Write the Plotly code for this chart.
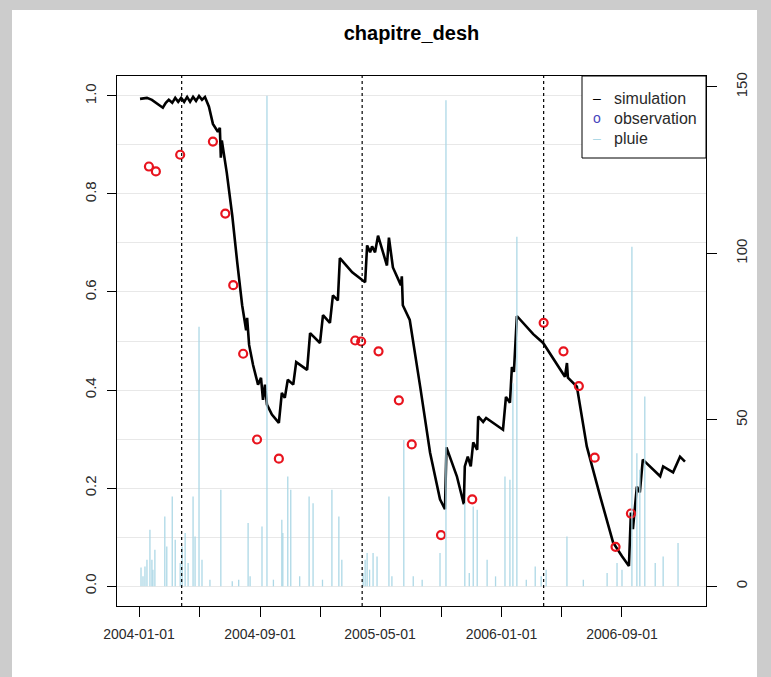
import plotly.graph_objects as go

# ---------------------------------------------------------------- data
title_text = "chapitre_desh"

# simulated soil-water index (daily model output, key points)
sim_dates = [
    "2004-01-03", "2004-01-17", "2004-01-27", "2004-02-04", "2004-02-12", "2004-02-18",
    "2004-02-24", "2004-03-01", "2004-03-08", "2004-03-14", "2004-03-20", "2004-03-26",
    "2004-04-01", "2004-04-07", "2004-04-13", "2004-04-19", "2004-04-25", "2004-05-01",
    "2004-05-07", "2004-05-13", "2004-05-21", "2004-05-29", "2004-06-08", "2004-06-12",
    "2004-06-14", "2004-06-16", "2004-06-26", "2004-07-07", "2004-07-17", "2004-07-27",
    "2004-08-04", "2004-08-06", "2004-08-10", "2004-08-18", "2004-08-28", "2004-09-03",
    "2004-09-07", "2004-09-11", "2004-09-15", "2004-09-25", "2004-10-09", "2004-10-15",
    "2004-10-21", "2004-10-27", "2004-11-07", "2004-11-13", "2004-12-05", "2004-12-11",
    "2004-12-31", "2005-01-06", "2005-01-20", "2005-01-26", "2005-02-05", "2005-02-09",
    "2005-03-06", "2005-04-01", "2005-04-05", "2005-04-11", "2005-04-15", "2005-04-21",
    "2005-04-27", "2005-05-15", "2005-05-19", "2005-05-27", "2005-06-12", "2005-06-14",
    "2005-06-16", "2005-06-30", "2005-07-21", "2005-08-10", "2005-08-30", "2005-09-09",
    "2005-09-12", "2005-10-03", "2005-10-17", "2005-10-19", "2005-10-25", "2005-10-31",
    "2005-11-05", "2005-11-13", "2005-11-15", "2005-11-25", "2005-12-01", "2006-01-04",
    "2006-01-10", "2006-01-18", "2006-01-22", "2006-01-26", "2006-02-01", "2006-03-06",
    "2006-03-26", "2006-05-09", "2006-05-13", "2006-05-15", "2006-06-02", "2006-06-22",
    "2006-07-19", "2006-08-14", "2006-09-01", "2006-09-15", "2006-09-19", "2006-09-23",
    "2006-10-01", "2006-10-07", "2006-10-13", "2006-10-27", "2006-11-17", "2006-11-23",
    "2006-12-13", "2006-12-27", "2007-01-06",
]
sim_values = [
    0.994, 0.996, 0.992, 0.986, 0.980, 0.976,
    0.986, 0.992, 0.986, 0.996, 0.988, 0.996,
    0.988, 0.998, 0.988, 0.998, 0.990, 1.000,
    0.992, 0.998, 0.978, 0.943, 0.927, 0.935,
    0.874, 0.909, 0.843, 0.756, 0.661, 0.573,
    0.522, 0.547, 0.492, 0.451, 0.411, 0.425,
    0.380, 0.411, 0.370, 0.350, 0.333, 0.394,
    0.384, 0.421, 0.411, 0.457, 0.441, 0.516,
    0.496, 0.553, 0.537, 0.593, 0.583, 0.669,
    0.640, 0.620, 0.695, 0.681, 0.693, 0.681,
    0.715, 0.654, 0.711, 0.650, 0.614, 0.632,
    0.573, 0.543, 0.407, 0.272, 0.177, 0.157,
    0.283, 0.224, 0.167, 0.244, 0.264, 0.244,
    0.293, 0.278, 0.346, 0.335, 0.343, 0.319,
    0.386, 0.374, 0.447, 0.437, 0.551, 0.514,
    0.496, 0.427, 0.455, 0.425, 0.407, 0.285,
    0.183, 0.089, 0.061, 0.041, 0.150, 0.116,
    0.203, 0.191, 0.258, 0.244, 0.224, 0.244,
    0.232, 0.264, 0.254,
]

# field observations
obs_dates = [
    "2004-01-21", "2004-02-04", "2004-03-24", "2004-05-29", "2004-06-23", "2004-07-09",
    "2004-07-29", "2004-08-26", "2004-10-09", "2005-03-12", "2005-03-24", "2005-04-28",
    "2005-06-08", "2005-07-04", "2005-09-01", "2005-11-03", "2006-03-27", "2006-05-06",
    "2006-06-06", "2006-07-08", "2006-08-19", "2006-09-19",
]
obs_values = [
    0.856, 0.846, 0.880, 0.907, 0.760, 0.614,
    0.474, 0.299, 0.260, 0.501, 0.499, 0.479,
    0.379, 0.289, 0.104, 0.177, 0.537, 0.479,
    0.408, 0.262, 0.080, 0.148,
]

# daily rainfall (mm), rainy days only
rain_dates = [
    "2004-01-05", "2004-01-09", "2004-01-13", "2004-01-17", "2004-01-23", "2004-01-27",
    "2004-01-29", "2004-02-02", "2004-02-22", "2004-02-26", "2004-03-08", "2004-03-14",
    "2004-03-24", "2004-03-28", "2004-04-03", "2004-04-09", "2004-04-19", "2004-04-23",
    "2004-05-01", "2004-05-07", "2004-05-23", "2004-06-14", "2004-07-07", "2004-07-20",
    "2004-08-08", "2004-08-12", "2004-09-05", "2004-09-15", "2004-09-28", "2004-10-15",
    "2004-10-17", "2004-10-27", "2004-11-02", "2004-11-20", "2004-12-09", "2004-12-17",
    "2005-01-05", "2005-01-24", "2005-02-07", "2005-02-13", "2005-03-28", "2005-04-01",
    "2005-04-05", "2005-04-10", "2005-04-17", "2005-04-25", "2005-05-19", "2005-05-25",
    "2005-06-18", "2005-07-07", "2005-07-25", "2005-08-30", "2005-09-11", "2005-10-19",
    "2005-10-28", "2005-11-05", "2005-11-13", "2005-12-03", "2005-12-20", "2006-01-08",
    "2006-01-18", "2006-01-24", "2006-02-01", "2006-02-20", "2006-03-10", "2006-03-22",
    "2006-04-01", "2006-05-13", "2006-06-15", "2006-08-02", "2006-08-22", "2006-09-01",
    "2006-09-21", "2006-10-01", "2006-10-07", "2006-10-17", "2006-11-07", "2006-11-23",
    "2006-12-23",
]
rain_values = [
    5.7, 3.0, 6.0, 8.0, 17.0, 8.0,
    5.0, 11.0, 21.0, 12.0, 27.0, 14.0,
    7.0, 12.0, 16.0, 7.0, 27.0, 15.0,
    78.0, 8.0, 2.0, 29.0, 1.5, 2.0,
    19.0, 3.0, 18.0, 147.4, 2.0, 20.0,
    16.0, 33.0, 29.0, 3.0, 27.0, 25.0,
    2.0, 29.0, 21.0, 8.0, 4.0, 8.0,
    10.0, 5.0, 10.0, 9.0, 27.0, 3.0,
    44.0, 3.0, 2.0, 10.0, 146.0, 25.0,
    4.0, 24.0, 23.0, 8.0, 3.0, 33.0,
    32.0, 61.0, 105.0, 2.0, 6.0, 3.0,
    5.0, 15.0, 2.0, 4.0, 7.0, 5.0,
    102.0, 40.0, 35.0, 57.0, 7.0, 9.0,
    13.0,
]

# start of each hydrological year
season_marks = ["2004-03-27", "2005-03-26", "2006-03-27"]

tick_dates = [
    "2004-01-01", "2004-05-01", "2004-09-01", "2005-01-01", "2005-05-01",
    "2005-09-01", "2006-01-01", "2006-05-01", "2006-09-01",
]
tick_labels = ["2004-01-01", "", "2004-09-01", "", "2005-05-01", "", "2006-01-01", "", "2006-09-01"]

left_ticks = [0.0, 0.2, 0.4, 0.6, 0.8, 1.0]
grid_minor = [0.1, 0.3, 0.5, 0.7, 0.9]
right_ticks = [0, 50, 100, 150]

legend_labels = ["simulation", "observation", "pluie"]

# ---------------------------------------------------------------- layout geometry (px)
W, H = 771, 677
PL, PR, PT, PB = 117, 706, 76, 606
pw, ph = PR - PL, PB - PT


def px(x):
    return (x - PL) / pw


def py(y):
    return (PB - y) / ph


FONT = "Liberation Sans, Arial, sans-serif"
RAIN_COLOR = "#add8e6"
TEXT_COLOR = "#2a2a2a"

fig = go.Figure()

# rainfall as vertical spikes on the right axis
rx, ry = [], []
for d, v in zip(rain_dates, rain_values):
    rx += [d, d, None]
    ry += [0, v, None]
fig.add_trace(go.Scatter(x=rx, y=ry, yaxis="y2", mode="lines",
                         line=dict(color=RAIN_COLOR, width=1.3), hoverinfo="skip"))

# simulation
fig.add_trace(go.Scatter(x=sim_dates, y=sim_values, mode="lines",
                         line=dict(color="black", width=2.6)))

# observations
fig.add_trace(go.Scatter(x=obs_dates, y=obs_values, mode="markers",
                         marker=dict(symbol="circle-open", size=8, color="#e8141e",
                                     line=dict(width=2.2, color="#e8141e"))))

shapes = []
# white panel over the grey page background
shapes.append(dict(type="rect", xref="paper", yref="paper",
                   x0=px(12), x1=px(757), y0=py(690), y1=py(10),
                   fillcolor="white", line=dict(width=0), layer="below"))
# dotted season separators
for d in season_marks:
    shapes.append(dict(type="line", xref="x", yref="paper", x0=d, x1=d, y0=0, y1=1,
                       line=dict(color="black", width=1.2, dash="dot")))
# legend box
shapes.append(dict(type="rect", xref="paper", yref="paper",
                   x0=px(582), x1=px(706), y0=py(158), y1=py(76),
                   fillcolor="white", line=dict(color="black", width=1)))

annotations = []
sym_text = ["–", "o", "–"]
sym_color = ["black", "#4444bb", RAIN_COLOR]
for i, lab in enumerate(legend_labels):
    yy = 98 + 20 * i
    annotations.append(dict(xref="paper", yref="paper", x=px(597), y=py(yy),
                            text=sym_text[i], showarrow=False, xanchor="center", yanchor="middle",
                            font=dict(family=FONT, size=14, color=sym_color[i])))
    annotations.append(dict(xref="paper", yref="paper", x=px(612), y=py(yy),
                            text=lab, showarrow=False, xanchor="left", yanchor="middle",
                            font=dict(family=FONT, size=16, color=TEXT_COLOR)))

axis_common = dict(showline=True, linecolor="black", linewidth=1, ticks="outside",
                   tickcolor="black", tickwidth=1, zeroline=False)

fig.update_layout(
    width=W, height=H,
    margin=dict(l=PL, r=W - PR, t=PT, b=H - PB),
    paper_bgcolor="#cccccc", plot_bgcolor="white",
    showlegend=False,
    title=dict(text="<b>" + title_text + "</b>", x=(PL + PR) / 2 / W, xanchor="center",
               y=1 - 33 / H, yanchor="middle",
               font=dict(family=FONT, size=20, color="black")),
    xaxis=dict(type="date", range=["2003-11-17 14:00", "2007-02-17 10:00"],
               tickmode="array", tickvals=tick_dates, ticktext=tick_labels,
               ticklen=10, ticklabelstandoff=5, mirror=True, showgrid=False,
               tickfont=dict(family=FONT, size=14, color=TEXT_COLOR),
               **axis_common),
    yaxis=dict(range=[-0.0407, 1.0407], tickmode="array", tickvals=left_ticks,
               ticktext=[f"{v:.1f}" for v in left_ticks], tickangle=-90,
               ticklen=9, ticklabelstandoff=5, mirror=True,
               showgrid=True, gridcolor="#e8e8e8", gridwidth=1,
               minor=dict(tickmode="array", tickvals=grid_minor,
                          showgrid=True, gridcolor="#e8e8e8", gridwidth=1, ticks=""),
               tickfont=dict(family=FONT, size=15, color=TEXT_COLOR),
               **axis_common),
    yaxis2=dict(overlaying="y", side="right", range=[-5.9, 153.3], tickmode="array",
                tickvals=right_ticks, ticktext=[str(v) for v in right_ticks], tickangle=-90,
                ticklen=10, ticklabelstandoff=12, showgrid=False,
                tickfont=dict(family=FONT, size=15, color=TEXT_COLOR),
                **axis_common),
    shapes=shapes,
    annotations=annotations,
)

fig.write_html("out.html")
